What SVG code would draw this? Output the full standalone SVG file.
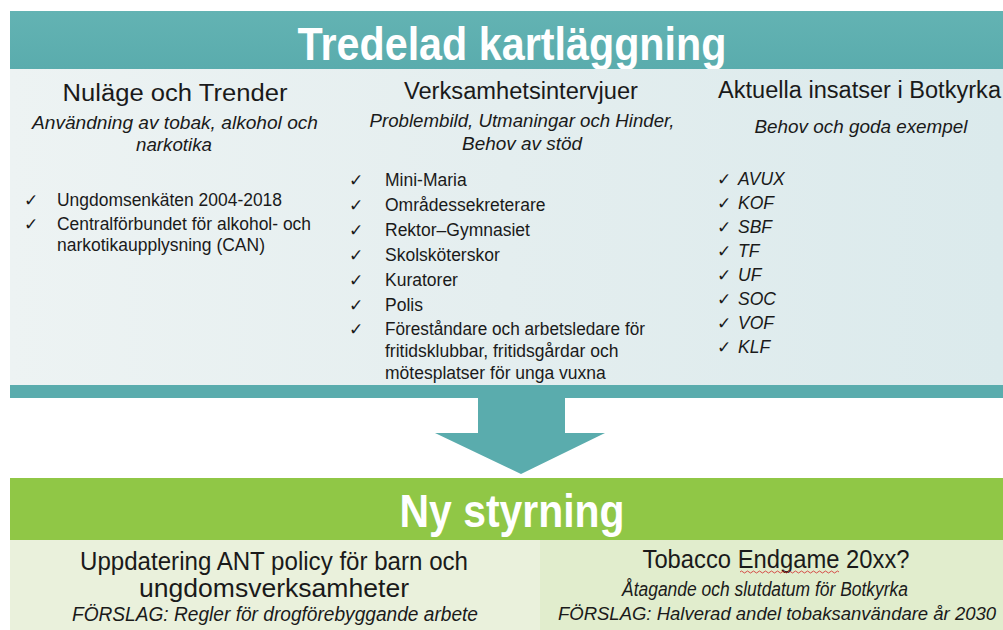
<svg xmlns="http://www.w3.org/2000/svg" width="1003" height="630" viewBox="0 0 1003 630">
  <style>
    .t { font-family: "Liberation Sans", Arial, sans-serif; fill: #1a1a1a; }
    .i { font-style: italic; }
    .h { font-size: 23.5px; }
    .s { font-size: 19px; }
    .li { font-size: 17.5px; }
    .ck { font-family: "DejaVu Sans", sans-serif; font-size: 17px; fill: #1a1a1a; }
    .ttl { font-family: "Liberation Sans", Arial, sans-serif; font-weight: bold; fill: #ffffff; }
    .bh { font-size: 25px; }
    .bs { font-size: 19.5px; }
  </style>
  <defs>
    <linearGradient id="panel" x1="0" y1="0" x2="1" y2="0">
      <stop offset="0" stop-color="#edf3f3"/>
      <stop offset="0.5" stop-color="#e4eeef"/>
      <stop offset="1" stop-color="#dbeaec"/>
    </linearGradient>
    <linearGradient id="teal" x1="0" y1="0" x2="0" y2="1">
      <stop offset="0" stop-color="#63b3b3"/>
      <stop offset="1" stop-color="#5aacad"/>
    </linearGradient>
  </defs>
  <rect width="1003" height="630" fill="#ffffff"/>

  <g id="kartlaggning">
    <rect x="10" y="11" width="993" height="58" fill="url(#teal)"/>
    <text class="ttl" x="512" y="60" font-size="47" text-anchor="middle" textLength="429" lengthAdjust="spacingAndGlyphs">Tredelad kartläggning</text>
    <rect x="10" y="69" width="993" height="316" fill="url(#panel)"/>
    <rect x="10" y="385" width="993" height="13" fill="#5aacad"/>
  </g>

  <g id="nulage">
    <text class="t h" x="175" y="101" text-anchor="middle" textLength="225" lengthAdjust="spacingAndGlyphs">Nuläge och Trender</text>
    <text class="t s i" x="175" y="129" text-anchor="middle" textLength="286" lengthAdjust="spacingAndGlyphs">Användning av tobak, alkohol och</text>
    <text class="t s i" x="174" y="151" text-anchor="middle" textLength="76" lengthAdjust="spacingAndGlyphs">narkotika</text>
    <text class="ck" x="24" y="206">✓</text>
    <text class="t li" x="57" y="206" textLength="225" lengthAdjust="spacingAndGlyphs">Ungdomsenkäten 2004-2018</text>
    <text class="ck" x="24" y="230">✓</text>
    <text class="t li" x="57" y="230" textLength="254" lengthAdjust="spacingAndGlyphs">Centralförbundet för alkohol- och</text>
    <text class="t li" x="57" y="251" textLength="208" lengthAdjust="spacingAndGlyphs">narkotikaupplysning (CAN)</text>
  </g>

  <g id="verksamhetsintervjuer">
    <text class="t h" x="521" y="99" text-anchor="middle" textLength="234" lengthAdjust="spacingAndGlyphs">Verksamhetsintervjuer</text>
    <text class="t s i" x="522" y="127" text-anchor="middle" textLength="305" lengthAdjust="spacingAndGlyphs">Problembild, Utmaningar och Hinder,</text>
    <text class="t s i" x="522" y="150" text-anchor="middle" textLength="120" lengthAdjust="spacingAndGlyphs">Behov av stöd</text>
    <text class="ck" x="349" y="186">✓</text>
    <text class="t li" x="385" y="186">Mini-Maria</text>
    <text class="ck" x="349" y="211">✓</text>
    <text class="t li" x="385" y="211">Områdessekreterare</text>
    <text class="ck" x="349" y="236">✓</text>
    <text class="t li" x="385" y="236">Rektor–Gymnasiet</text>
    <text class="ck" x="349" y="261">✓</text>
    <text class="t li" x="385" y="261">Skolsköterskor</text>
    <text class="ck" x="349" y="286">✓</text>
    <text class="t li" x="385" y="286">Kuratorer</text>
    <text class="ck" x="349" y="311">✓</text>
    <text class="t li" x="385" y="311">Polis</text>
    <text class="ck" x="349" y="335">✓</text>
    <text class="t li" x="385" y="335" textLength="260" lengthAdjust="spacingAndGlyphs">Föreståndare och arbetsledare för</text>
    <text class="t li" x="385" y="357">fritidsklubbar, fritidsgårdar och</text>
    <text class="t li" x="385" y="379">mötesplatser för unga vuxna</text>
  </g>

  <g id="aktuella-insatser">
    <text class="t h" x="718" y="98" textLength="283" lengthAdjust="spacingAndGlyphs">Aktuella insatser i Botkyrka</text>
    <text class="t s i" x="861" y="133" text-anchor="middle" textLength="213" lengthAdjust="spacingAndGlyphs">Behov och goda exempel</text>
    <text class="ck" x="717" y="185">✓</text><text class="t li i" x="738" y="185">AVUX</text>
    <text class="ck" x="717" y="209">✓</text><text class="t li i" x="738" y="209">KOF</text>
    <text class="ck" x="717" y="233">✓</text><text class="t li i" x="738" y="233">SBF</text>
    <text class="ck" x="717" y="257">✓</text><text class="t li i" x="738" y="257">TF</text>
    <text class="ck" x="717" y="281">✓</text><text class="t li i" x="738" y="281">UF</text>
    <text class="ck" x="717" y="305">✓</text><text class="t li i" x="738" y="305">SOC</text>
    <text class="ck" x="717" y="329">✓</text><text class="t li i" x="738" y="329">VOF</text>
    <text class="ck" x="717" y="353">✓</text><text class="t li i" x="738" y="353">KLF</text>
  </g>

  <g id="connectors">
    <path d="M478 398 H565 V433 H605 L521 474 L435 433 H478 Z" fill="#5aacad"/>
  </g>

  <g id="ny-styrning">
    <rect x="10" y="478" width="993" height="62" fill="#90c746"/>
    <text class="ttl" x="512" y="527" font-size="46" text-anchor="middle" textLength="225" lengthAdjust="spacingAndGlyphs">Ny styrning</text>
    <rect x="10" y="540" width="530" height="90" fill="#eaf1dc"/>
    <rect x="540" y="540" width="463" height="90" fill="#e1edcd"/>
  </g>

  <g id="ant-policy">
    <text class="t bh" x="274" y="570" text-anchor="middle" textLength="388" lengthAdjust="spacingAndGlyphs">Uppdatering ANT policy för barn och</text>
    <text class="t bh" x="274" y="597" text-anchor="middle" textLength="270" lengthAdjust="spacingAndGlyphs">ungdomsverksamheter</text>
    <text class="t bs i" x="275" y="621" text-anchor="middle" textLength="406" lengthAdjust="spacingAndGlyphs">FÖRSLAG: Regler för drogförebyggande arbete</text>
  </g>

  <g id="tobacco-endgame">
    <text class="t bh" x="776" y="568" text-anchor="middle" textLength="267" lengthAdjust="spacingAndGlyphs">Tobacco Endgame 20xx?</text>
    <path d="M740 572 q1.5 -2 3 0 t3 0 t3 0 t3 0 t3 0 t3 0 t3 0 t3 0 t3 0 t3 0 t3 0 t3 0 t3 0 t3 0 t3 0 t3 0 t3 0 t3 0 t3 0 t3 0 t3 0 t3 0 t3 0 t3 0 t3 0 t3 0 t3 0 t3 0 t3 0 t3 0 t3 0 t3 0 t3 0" fill="none" stroke="#d23a3a" stroke-width="0.9"/>
    <text class="t bs i" x="765" y="596" text-anchor="middle" textLength="286" lengthAdjust="spacingAndGlyphs">Åtagande och slutdatum för Botkyrka</text>
    <text class="t i" x="777" y="620" font-size="18.5" text-anchor="middle">FÖRSLAG: Halverad andel tobaksanvändare år 2030</text>
  </g>
</svg>
